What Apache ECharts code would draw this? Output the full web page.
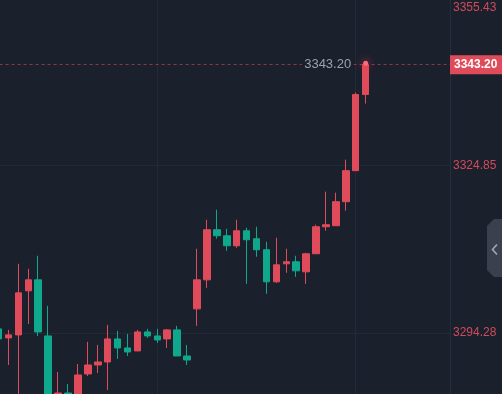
<!DOCTYPE html>
<html><head><meta charset="utf-8">
<script src="https://cdn.jsdelivr.net/npm/echarts@6/dist/echarts.min.js"></script>
<style>html,body{margin:0;padding:0;background:#1b202d;}#c{width:502px;height:394px;}</style>
</head><body><div id="c"></div>
<script>
// 46 slots: 38 bars drawn, 8 empty future slots on the right
const categories = Array.from({length: 46}, (_, i) => String(i + 1));
const opens  = [3295.05, 3293.41, 3293.96, 3301.99, 3303.99, 3293.77, 3281.18, 3283.37, 3282.46, 3286.84, 3288.48, 3289.03, 3293.23, 3291.58, 3291.04, 3294.50, 3293.77, 3293.23, 3294.87, 3290.12, 3298.70, 3303.99, 3313.12, 3312.02, 3310.20, 3312.93, 3311.47, 3309.47, 3303.63, 3306.91, 3307.28, 3305.45, 3308.74, 3313.66, 3313.85, 3318.23, 3323.88, 3337.75];
const closes = [3293.23, 3293.96, 3301.62, 3303.99, 3294.50, 3280.27, 3283.37, 3282.46, 3286.66, 3288.48, 3289.03, 3293.23, 3291.58, 3290.85, 3294.50, 3293.77, 3293.04, 3294.87, 3290.12, 3289.39, 3303.99, 3313.12, 3312.02, 3310.20, 3312.93, 3311.29, 3309.47, 3303.63, 3306.73, 3307.28, 3305.63, 3308.74, 3313.66, 3314.03, 3318.23, 3323.88, 3337.75, 3343.20];
const lows   = [3293.00, 3288.48, 3282.00, 3295.96, 3293.77, 3279.50, 3280.50, 3281.80, 3281.90, 3286.47, 3287.02, 3283.92, 3289.58, 3290.12, 3291.04, 3293.41, 3292.50, 3291.58, 3290.12, 3288.48, 3295.60, 3302.53, 3311.47, 3309.28, 3309.83, 3303.26, 3308.19, 3301.44, 3303.44, 3305.27, 3304.54, 3303.26, 3308.74, 3312.93, 3313.85, 3316.58, 3323.88, 3336.11];
const highs  = [3295.20, 3294.87, 3306.91, 3306.00, 3308.37, 3299.25, 3287.20, 3285.01, 3288.66, 3292.68, 3292.13, 3295.78, 3294.69, 3294.14, 3294.87, 3295.05, 3295.05, 3295.05, 3295.60, 3292.13, 3309.65, 3314.94, 3316.77, 3313.30, 3314.94, 3313.48, 3313.66, 3310.93, 3311.66, 3309.65, 3308.37, 3308.92, 3314.03, 3320.05, 3319.87, 3325.89, 3338.12, 3343.45];
const yTickLabels = [3294.28, 3324.85, 3355.43];
const yMin = 3283.19, yMax = 3355.43;
const lastPrice = 3343.20;
const vGridIdx = [16, 36];

const UP = '#e04b5b', DOWN = '#0fa88c', BG = '#1b202d', GRID = '#232a37';
const AXIS_RED = '#cf4b5a', FONT = 'Liberation Sans, Arial, sans-serif';
const candles = opens.map((o, i) => [o, closes[i], lows[i], highs[i]]);
const lastIdx = opens.length - 1;

const chart = echarts.init(document.getElementById('c'), null, {renderer: 'canvas'});
chart.setOption({
  backgroundColor: BG,
  animation: false,
  grid: {left: -6.4, right: 52, top: -2.5, bottom: 0, containLabel: false, outerBoundsMode: 'none'},
  xAxis: {
    type: 'category', data: categories, boundaryGap: true,
    axisLine: {show: false}, axisTick: {show: false}, axisLabel: {show: false}, splitLine: {show: false}
  },
  yAxis: [{
    type: 'value', position: 'right', min: yMin, max: yMax,
    axisLine: {show: true, lineStyle: {color: '#262e3b'}},
    axisTick: {show: false, customValues: yTickLabels},
    splitLine: {show: true, lineStyle: {color: GRID, width: 1}},
    axisLabel: {
      customValues: yTickLabels, color: AXIS_RED, fontSize: 12, margin: 3, fontFamily: FONT,
      formatter: v => Math.abs(v - yMax) < 0.01 ? '{t|' + v.toFixed(2) + '}' : v.toFixed(2),
      rich: {t: {color: AXIS_RED, fontSize: 12, fontFamily: FONT, padding: [20, 0, 0, 0]}}
    }
  }, {
    type: 'value', position: 'right', min: yMin, max: yMax,
    axisLine: {show: false}, axisTick: {show: false}, splitLine: {show: false},
    axisLabel: {
      customValues: [lastPrice], color: '#ffffff', fontSize: 12, fontWeight: 'bold', margin: 0,
      fontFamily: FONT, backgroundColor: UP, padding: [4, 8, 3, 4],
      formatter: v => v.toFixed(2)
    }
  }],
  series: [{
    type: 'line', data: [], z: 1, silent: true,
    markLine: {
      z: 1, silent: true, symbol: 'none', label: {show: false},
      lineStyle: {color: GRID, type: 'solid', width: 1},
      data: vGridIdx.map(i => ({xAxis: i}))
    }
  }, {
    type: 'line', data: [], z: 2, silent: true,
    markLine: {
      z: 2, silent: true, symbol: 'none', label: {show: false},
      lineStyle: {color: '#8e3846', type: [3, 3], width: 1},
      data: [{yAxis: lastPrice}]
    }
  }, {
    type: 'candlestick', z: 3, barWidth: 7,
    data: candles,
    itemStyle: {color: UP, color0: DOWN, borderColor: UP, borderColor0: DOWN, borderWidth: 1},
    markPoint: {
      silent: true, animation: false,
      data: [{
        coord: [lastIdx, lastPrice], symbol: 'rect', symbolSize: 1,
        itemStyle: {color: 'rgba(0,0,0,0)'},
        label: {
          show: true, position: 'left', distance: 12, formatter: lastPrice.toFixed(2),
          color: '#9ba1ad', fontSize: 13, fontFamily: FONT,
          backgroundColor: BG, padding: [1, 2]
        }
      }, {
        coord: [lastIdx, highs[lastIdx]], symbol: 'circle', symbolSize: 5,
        itemStyle: {color: '#ff6b78', shadowBlur: 8, shadowColor: '#ff3b4e'},
        label: {show: false}
      }]
    }
  }],
  graphic: [{
    type: 'polygon', z: 100,
    shape: {points: [[503, 219], [494, 219], [487, 226], [487, 270], [494, 277], [503, 277]]},
    style: {fill: '#3a404d'}
  }, {
    type: 'polyline', z: 101,
    shape: {points: [[497, 244.5], [492.5, 249.5], [497, 254.5]]},
    style: {stroke: '#a3a9b3', lineWidth: 1.6, fill: null}
  }]
});
</script></body></html>
